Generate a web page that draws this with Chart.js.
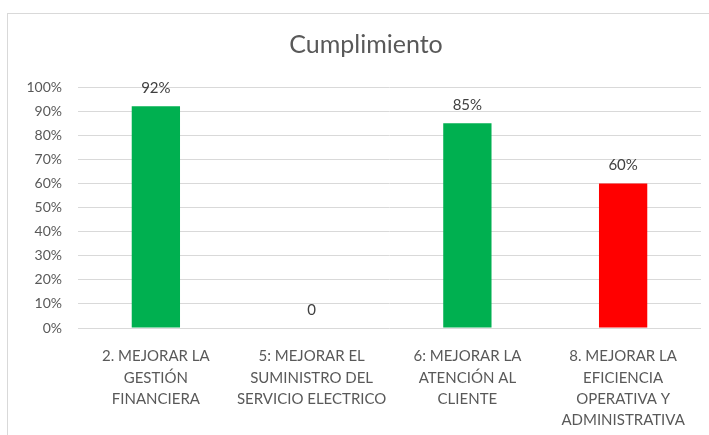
<!DOCTYPE html>
<html>
<head>
<meta charset="utf-8">
<script src="https://cdn.jsdelivr.net/npm/chart.js@4"></script>
<style>
    html, body { margin: 0; padding: 0; background: #fff; overflow: hidden; width: 709px; height: 435px; }
    #frame { position: absolute; left: 7px; top: 13px; width: 724px; height: 440px; border: 1px solid #d9d9d9; }
</style>
</head>
<body>
<div id="frame"><canvas id="chart" width="724" height="440"></canvas></div>
<script>
const categories = [
    ['2. MEJORAR LA', 'GESTIÓN', 'FINANCIERA'],
    ['5: MEJORAR EL', 'SUMINISTRO DEL', 'SERVICIO ELECTRICO'],
    ['6: MEJORAR LA', 'ATENCIÓN AL', 'CLIENTE'],
    ['8. MEJORAR LA', 'EFICIENCIA', 'OPERATIVA Y', 'ADMINISTRATIVA']
];
const cumplimiento = [92, 0, 85, 60];
const barColors = ['#00b050', '#00b050', '#00b050', '#ff0000'];
const chartTitle = 'Cumplimiento';

const textGray = '#595959';
const fontFamily = 'Lato, "Open Sans", sans-serif';

// value labels above the bars + title centred on the whole frame
const valueLabels = {
    id: 'valueLabels',
    afterDatasetsDraw(chart) {
        const ctx = chart.ctx;
        const meta = chart.getDatasetMeta(0);
        ctx.save();
        ctx.font = '15px ' + fontFamily;
        ctx.fillStyle = '#404040';
        ctx.textAlign = 'center';
        ctx.textBaseline = 'middle';
        meta.data.forEach((bar, i) => {
            const v = cumplimiento[i];
            const txt = v === 0 ? '0' : v + '%';
            ctx.fillText(txt, bar.x, bar.y - 18);
        });

        ctx.font = '25px ' + fontFamily;
        ctx.fillStyle = textGray;
        ctx.fillText(chartTitle, chart.width / 2 - 4, 31);
        ctx.restore();
    }
};

const ctx = document.getElementById('chart').getContext('2d');
const chart = new Chart(ctx, {
    type: 'bar',
    data: {
        labels: categories,
        datasets: [{
            label: 'Cumplimiento',
            data: cumplimiento,
            backgroundColor: barColors,
            borderWidth: 0,
            categoryPercentage: 1,
            barPercentage: 0.31
        }]
    },
    options: {
        responsive: false,
        animation: false,
        layout: { padding: { left: 0, right: 31, top: 73, bottom: 0 } },
        plugins: {
            legend: { display: false },
            tooltip: { enabled: false },
            title: { display: false }
        },
        scales: {
            x: {
                grid: { display: false },
                border: { display: false },
                ticks: {
                    color: textGray,
                    font: { family: fontFamily, size: 15, lineHeight: 1.42 },
                    padding: 10,
                    maxRotation: 0,
                    autoSkip: false
                },
                afterFit(scale) { scale.height = 126; }
            },
            y: {
                min: 0,
                max: 100,
                grid: { color: '#d9d9d9', drawTicks: false },
                border: { display: false },
                ticks: {
                    stepSize: 10,
                    color: textGray,
                    font: { family: fontFamily, size: 14 },
                    padding: 16,
                    callback: v => v + '%'
                },
                afterFit(scale) { scale.width = 70; }
            }
        }
    },
    plugins: [valueLabels]
});
</script>
</body>
</html>
